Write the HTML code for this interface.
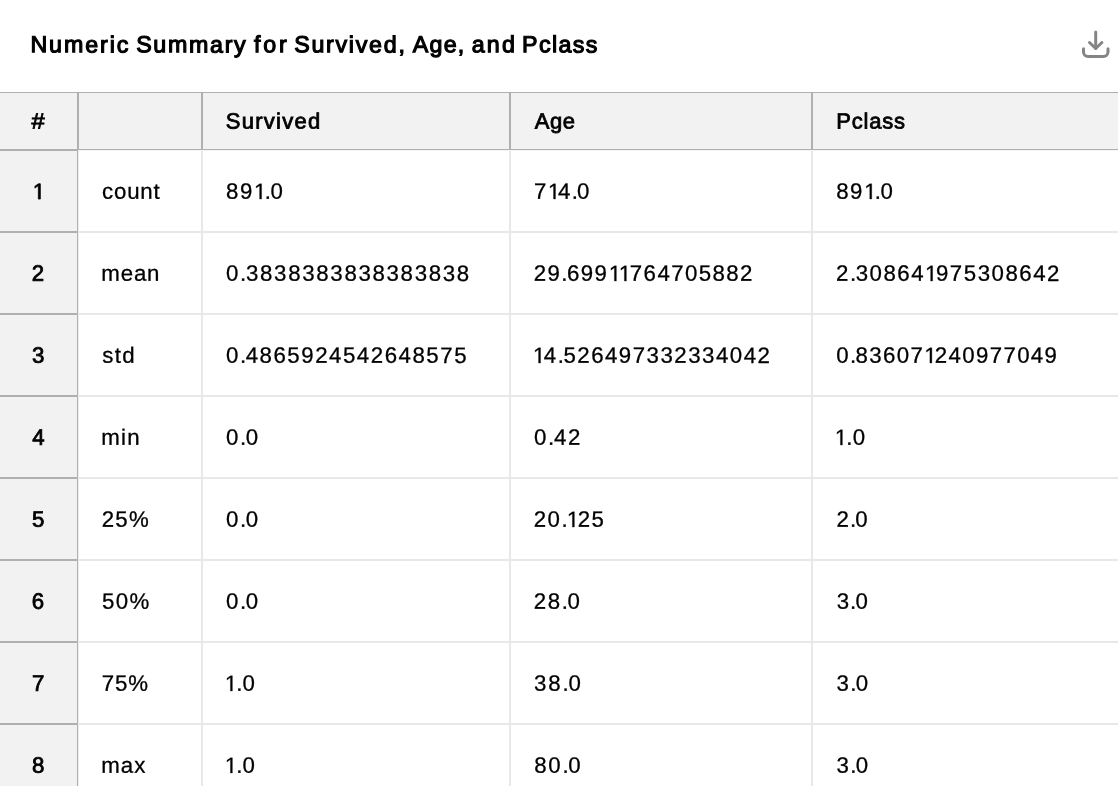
<!DOCTYPE html>
<html><head><meta charset="utf-8"><title>Numeric Summary for Survived, Age, and Pclass</title>
<style>
html,body{margin:0;padding:0;background:#fff;}
body{width:1118px;height:786px;position:relative;overflow:hidden;font-family:"Liberation Sans",sans-serif;color:#000;}
.r{position:absolute;}
.t{-webkit-text-stroke:.3px #000;position:absolute;left:0;top:0;white-space:nowrap;line-height:1;transform-origin:0 0;}
#tx{position:absolute;left:0;top:0;width:1118px;height:786px;will-change:transform;}
.ic{position:absolute;}

.o{stroke:#000;stroke-width:27.6;display:inline-block;width:.55615em;height:.68799em;vertical-align:baseline;fill:#000;overflow:visible;}
.os{stroke-width:73.6;}
</style></head><body>
<div class="r" style="left:0px;top:93px;width:1118px;height:56px;background:#f2f2f2"></div>
<div class="r" style="left:0px;top:150px;width:77px;height:636px;background:#f2f2f2"></div>
<div class="r" style="left:0px;top:92px;width:1118px;height:1px;background:#b0b0b0"></div>
<div class="r" style="left:0px;top:149px;width:1118px;height:1px;background:#b0b0b0"></div>
<div class="r" style="left:0px;top:150px;width:77px;height:1px;background:#b0b0b0"></div>
<div class="r" style="left:79px;top:150px;width:1039px;height:1px;background:#f4f4f4"></div>
<div class="r" style="left:77px;top:93px;width:2px;height:56px;background:#b0b0b0"></div>
<div class="r" style="left:201px;top:93px;width:2px;height:56px;background:#b0b0b0"></div>
<div class="r" style="left:509px;top:93px;width:2px;height:56px;background:#b0b0b0"></div>
<div class="r" style="left:811px;top:93px;width:2px;height:56px;background:#b0b0b0"></div>
<div class="r" style="left:77px;top:150px;width:1px;height:636px;background:#b0b0b0"></div>
<div class="r" style="left:78px;top:150px;width:1px;height:636px;background:#ededed"></div>
<div class="r" style="left:201px;top:151px;width:2px;height:635px;background:#e8e8e8"></div>
<div class="r" style="left:509px;top:151px;width:2px;height:635px;background:#e8e8e8"></div>
<div class="r" style="left:811px;top:151px;width:2px;height:635px;background:#e8e8e8"></div>
<div class="r" style="left:79px;top:231px;width:1039px;height:2px;background:#e8e8e8"></div>
<div class="r" style="left:0px;top:231px;width:77px;height:2px;background:#b0b0b0"></div>
<div class="r" style="left:79px;top:313px;width:1039px;height:2px;background:#e8e8e8"></div>
<div class="r" style="left:0px;top:313px;width:77px;height:2px;background:#b0b0b0"></div>
<div class="r" style="left:79px;top:395px;width:1039px;height:2px;background:#e8e8e8"></div>
<div class="r" style="left:0px;top:395px;width:77px;height:2px;background:#b0b0b0"></div>
<div class="r" style="left:79px;top:477px;width:1039px;height:2px;background:#e8e8e8"></div>
<div class="r" style="left:0px;top:477px;width:77px;height:2px;background:#b0b0b0"></div>
<div class="r" style="left:79px;top:559px;width:1039px;height:2px;background:#e8e8e8"></div>
<div class="r" style="left:0px;top:559px;width:77px;height:2px;background:#b0b0b0"></div>
<div class="r" style="left:79px;top:641px;width:1039px;height:2px;background:#e8e8e8"></div>
<div class="r" style="left:0px;top:641px;width:77px;height:2px;background:#b0b0b0"></div>
<div class="r" style="left:79px;top:723px;width:1039px;height:2px;background:#e8e8e8"></div>
<div class="r" style="left:0px;top:723px;width:77px;height:2px;background:#b0b0b0"></div>
<div id="tx">
<span class="t" style="transform:matrix(1,.0006,0,1,30.41,33.35);font-size:23.25px;-webkit-text-stroke:1.15px #000;letter-spacing:1.911px">Numeric</span>
<span class="t" style="transform:matrix(1,.0006,0,1,136.13,33.35);font-size:23.25px;-webkit-text-stroke:1.15px #000;letter-spacing:1.684px">Summary</span>
<span class="t" style="transform:matrix(1,.0006,0,1,253.89,33.35);font-size:23.25px;-webkit-text-stroke:1.15px #000;letter-spacing:2.817px">for</span>
<span class="t" style="transform:matrix(1,.0006,0,1,294.14,33.35);font-size:23.25px;-webkit-text-stroke:1.15px #000;letter-spacing:1.731px">Survived,</span>
<span class="t" style="transform:matrix(1,.0006,0,1,412.68,33.35);font-size:23.25px;-webkit-text-stroke:1.15px #000;letter-spacing:1.270px">Age,</span>
<span class="t" style="transform:matrix(1,.0006,0,1,471.64,33.35);font-size:23.25px;-webkit-text-stroke:1.15px #000;letter-spacing:2.207px">and</span>
<span class="t" style="transform:matrix(1,.0006,0,1,522.08,33.35);font-size:23.25px;-webkit-text-stroke:1.15px #000;letter-spacing:1.372px">Pclass</span>
<span class="t" style="transform:matrix(1.08,.0006,0,1,31.55,110.50);font-size:22.0px;-webkit-text-stroke:0.8px #000;letter-spacing:0.000px">#</span>
<span class="t" style="transform:matrix(1,.0006,0,1,225.71,110.50);font-size:22.0px;-webkit-text-stroke:0.8px #000;letter-spacing:1.270px">Survived</span>
<span class="t" style="transform:matrix(1,.0006,0,1,534.75,110.50);font-size:22.0px;-webkit-text-stroke:0.8px #000;letter-spacing:0.591px">Age</span>
<span class="t" style="transform:matrix(1,.0006,0,1,836.35,110.50);font-size:22.0px;-webkit-text-stroke:0.8px #000;letter-spacing:0.747px">Pclass</span>
<span class="t" style="transform:matrix(1,.0006,0,1,32.77,180.75);font-size:22.25px;-webkit-text-stroke:0.8px #000;letter-spacing:0.000px"><svg class="o os" viewBox="0 0 1139 1409"><path d="M515 1409V172L197 399V229L530 0H696V1409Z"/></svg></span>
<span class="t" style="transform:matrix(1,.0006,0,1,101.92,180.75);font-size:22.25px;letter-spacing:0.854px">count</span>
<span class="t" style="transform:matrix(1,.0006,0,1,226.02,180.75);font-size:22.25px;letter-spacing:1.515px">89<svg class="o" viewBox="0 0 1139 1409" style="margin-right:-1.485px"><path d="M515 1409V172L197 399V229L530 0H696V1409Z"/></svg><span style="letter-spacing:-0.485px">.</span>0</span>
<span class="t" style="transform:matrix(1,.0006,0,1,533.93,180.75);font-size:22.25px;letter-spacing:1.202px">7<svg class="o" viewBox="0 0 1139 1409" style="margin-right:-1.798px"><path d="M515 1409V172L197 399V229L530 0H696V1409Z"/></svg>4<span style="letter-spacing:-0.798px">.</span>0</span>
<span class="t" style="transform:matrix(1,.0006,0,1,836.17,180.75);font-size:22.25px;letter-spacing:1.507px">89<svg class="o" viewBox="0 0 1139 1409" style="margin-right:-1.493px"><path d="M515 1409V172L197 399V229L530 0H696V1409Z"/></svg><span style="letter-spacing:-0.493px">.</span>0</span>
<span class="t" style="transform:matrix(1,.0006,0,1,31.73,262.75);font-size:22.25px;-webkit-text-stroke:0.8px #000;letter-spacing:0.000px">2</span>
<span class="t" style="transform:matrix(1,.0006,0,1,101.37,262.75);font-size:22.25px;letter-spacing:0.806px">mean</span>
<span class="t" style="transform:matrix(1,.0006,0,1,226.06,262.75);font-size:22.25px;letter-spacing:1.682px">0<span style="letter-spacing:-0.318px">.</span>3838383838383838</span>
<span class="t" style="transform:matrix(1,.0006,0,1,533.81,262.75);font-size:22.25px;letter-spacing:1.403px">29<span style="letter-spacing:-0.597px">.</span>699<svg class="o" viewBox="0 0 1139 1409" style="margin-right:-1.597px"><path d="M515 1409V172L197 399V229L530 0H696V1409Z"/></svg><svg class="o" viewBox="0 0 1139 1409" style="margin-right:-1.597px"><path d="M515 1409V172L197 399V229L530 0H696V1409Z"/></svg>764705882</span>
<span class="t" style="transform:matrix(1,.0006,0,1,836.06,262.75);font-size:22.25px;letter-spacing:1.514px">2<span style="letter-spacing:-0.486px">.</span>30864<svg class="o" viewBox="0 0 1139 1409" style="margin-right:-1.486px"><path d="M515 1409V172L197 399V229L530 0H696V1409Z"/></svg>975308642</span>
<span class="t" style="transform:matrix(1,.0006,0,1,31.93,344.75);font-size:22.25px;-webkit-text-stroke:0.8px #000;letter-spacing:0.000px">3</span>
<span class="t" style="transform:matrix(1,.0006,0,1,102.21,344.75);font-size:22.25px;letter-spacing:1.410px">std</span>
<span class="t" style="transform:matrix(1,.0006,0,1,226.06,344.75);font-size:22.25px;letter-spacing:1.522px">0<span style="letter-spacing:-0.478px">.</span>4865924542648575</span>
<span class="t" style="transform:matrix(1,.0006,0,1,532.97,344.75);font-size:22.25px;letter-spacing:1.496px"><svg class="o" viewBox="0 0 1139 1409" style="margin-right:-1.504px"><path d="M515 1409V172L197 399V229L530 0H696V1409Z"/></svg>4<span style="letter-spacing:-0.504px">.</span>526497332334042</span>
<span class="t" style="transform:matrix(1,.0006,0,1,836.31,344.75);font-size:22.25px;letter-spacing:1.342px">0<span style="letter-spacing:-0.658px">.</span>83607<svg class="o" viewBox="0 0 1139 1409" style="margin-right:-1.658px"><path d="M515 1409V172L197 399V229L530 0H696V1409Z"/></svg>240977049</span>
<span class="t" style="transform:matrix(1,.0006,0,1,32.26,426.75);font-size:22.25px;-webkit-text-stroke:0.8px #000;letter-spacing:0.000px">4</span>
<span class="t" style="transform:matrix(1,.0006,0,1,101.37,426.75);font-size:22.25px;letter-spacing:1.190px">min</span>
<span class="t" style="transform:matrix(1,.0006,0,1,226.06,426.75);font-size:22.25px;letter-spacing:1.623px">0<span style="letter-spacing:-0.377px">.</span>0</span>
<span class="t" style="transform:matrix(1,.0006,0,1,534.06,426.75);font-size:22.25px;letter-spacing:1.681px">0<span style="letter-spacing:-0.319px">.</span>42</span>
<span class="t" style="transform:matrix(1,.0006,0,1,834.83,426.75);font-size:22.25px;letter-spacing:2.154px"><svg class="o" viewBox="0 0 1139 1409" style="margin-right:-0.846px"><path d="M515 1409V172L197 399V229L530 0H696V1409Z"/></svg><span style="letter-spacing:0.154px">.</span>0</span>
<span class="t" style="transform:matrix(1,.0006,0,1,32.10,508.75);font-size:22.25px;-webkit-text-stroke:0.8px #000;letter-spacing:0.000px">5</span>
<span class="t" style="transform:matrix(1,.0006,0,1,101.78,508.75);font-size:22.25px;letter-spacing:1.202px">25%</span>
<span class="t" style="transform:matrix(1,.0006,0,1,226.06,508.75);font-size:22.25px;letter-spacing:1.623px">0<span style="letter-spacing:-0.377px">.</span>0</span>
<span class="t" style="transform:matrix(1,.0006,0,1,533.81,508.75);font-size:22.25px;letter-spacing:1.423px">20<span style="letter-spacing:-0.577px">.</span><svg class="o" viewBox="0 0 1139 1409" style="margin-right:-1.577px"><path d="M515 1409V172L197 399V229L530 0H696V1409Z"/></svg>25</span>
<span class="t" style="transform:matrix(1,.0006,0,1,836.52,508.75);font-size:22.25px;letter-spacing:1.141px">2<span style="letter-spacing:-0.859px">.</span>0</span>
<span class="t" style="transform:matrix(1,.0006,0,1,31.87,590.75);font-size:22.25px;-webkit-text-stroke:0.8px #000;letter-spacing:0.000px">6</span>
<span class="t" style="transform:matrix(1,.0006,0,1,101.95,590.75);font-size:22.25px;letter-spacing:1.400px">50%</span>
<span class="t" style="transform:matrix(1,.0006,0,1,226.06,590.75);font-size:22.25px;letter-spacing:1.623px">0<span style="letter-spacing:-0.377px">.</span>0</span>
<span class="t" style="transform:matrix(1,.0006,0,1,533.81,590.75);font-size:22.25px;letter-spacing:1.541px">28<span style="letter-spacing:-0.459px">.</span>0</span>
<span class="t" style="transform:matrix(1,.0006,0,1,836.66,590.75);font-size:22.25px;letter-spacing:1.075px">3<span style="letter-spacing:-0.925px">.</span>0</span>
<span class="t" style="transform:matrix(1,.0006,0,1,32.00,672.75);font-size:22.25px;-webkit-text-stroke:0.8px #000;letter-spacing:0.000px">7</span>
<span class="t" style="transform:matrix(1,.0006,0,1,101.87,672.75);font-size:22.25px;letter-spacing:0.856px">75%</span>
<span class="t" style="transform:matrix(1,.0006,0,1,224.83,672.75);font-size:22.25px;letter-spacing:2.104px"><svg class="o" viewBox="0 0 1139 1409" style="margin-right:-0.896px"><path d="M515 1409V172L197 399V229L530 0H696V1409Z"/></svg><span style="letter-spacing:0.104px">.</span>0</span>
<span class="t" style="transform:matrix(1,.0006,0,1,534.06,672.75);font-size:22.25px;letter-spacing:1.793px">38<span style="letter-spacing:-0.207px">.</span>0</span>
<span class="t" style="transform:matrix(1,.0006,0,1,836.52,672.75);font-size:22.25px;letter-spacing:1.390px">3<span style="letter-spacing:-0.610px">.</span>0</span>
<span class="t" style="transform:matrix(1,.0006,0,1,31.97,754.75);font-size:22.25px;-webkit-text-stroke:0.8px #000;letter-spacing:0.000px">8</span>
<span class="t" style="transform:matrix(1,.0006,0,1,101.37,754.75);font-size:22.25px;letter-spacing:0.940px">max</span>
<span class="t" style="transform:matrix(1,.0006,0,1,224.83,754.75);font-size:22.25px;letter-spacing:2.104px"><svg class="o" viewBox="0 0 1139 1409" style="margin-right:-0.896px"><path d="M515 1409V172L197 399V229L530 0H696V1409Z"/></svg><span style="letter-spacing:0.104px">.</span>0</span>
<span class="t" style="transform:matrix(1,.0006,0,1,534.17,754.75);font-size:22.25px;letter-spacing:1.755px">80<span style="letter-spacing:-0.245px">.</span>0</span>
<span class="t" style="transform:matrix(1,.0006,0,1,836.52,754.75);font-size:22.25px;letter-spacing:1.390px">3<span style="letter-spacing:-0.610px">.</span>0</span>
</div>
<svg class="ic" width="44" height="40" viewBox="1074 24 44 40" style="left:1074px;top:24px"><g fill="none" stroke="#858585" stroke-width="3" stroke-linecap="round" stroke-linejoin="round"><path d="M1095.7 32.1V48.3"/><path d="M1089.5 42.5L1095.7 48.5L1101.9 42.5"/><path d="M1083.5 48.7v3.2a4.5 4.5 0 0 0 4.5 4.5h15.5a4.5 4.5 0 0 0 4.5-4.5v-3.2"/></g></svg>
</body></html>
